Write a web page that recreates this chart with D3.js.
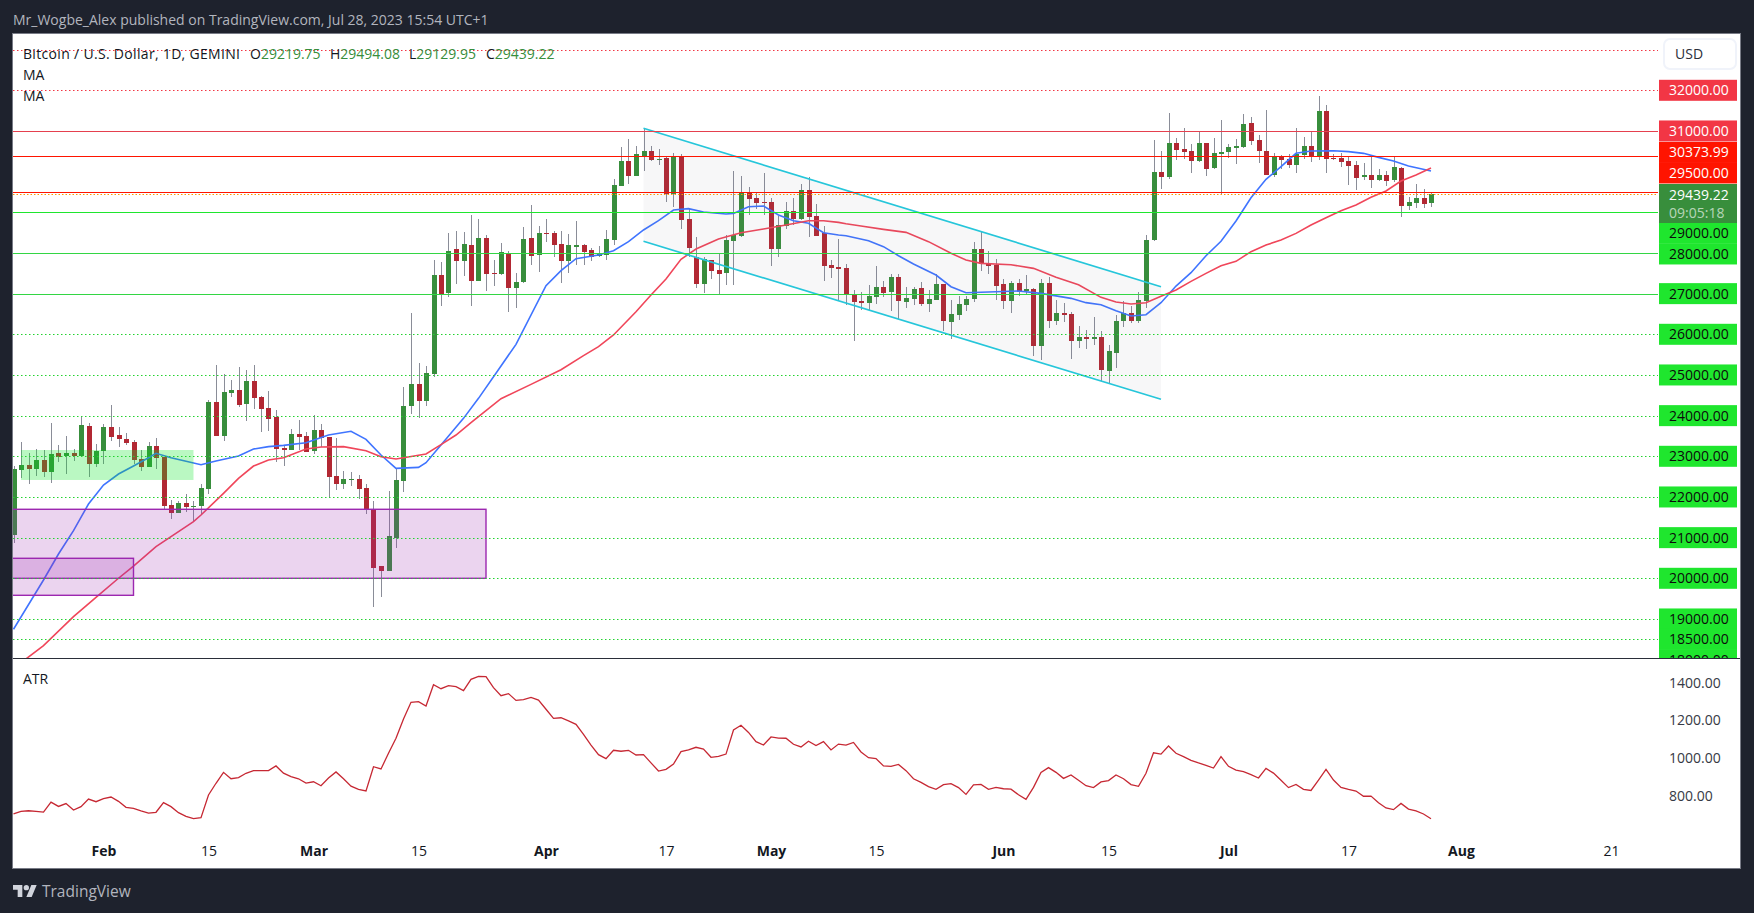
<!DOCTYPE html>
<html>
<head>
<meta charset="utf-8">
<title>BTCUSD</title>
<script src="https://cdn.jsdelivr.net/npm/d3@7"></script>
<style>
  html, body { margin: 0; padding: 0; background: #1e222d; }
  svg { display: block; }
  text { font-family: "Open Sans", sans-serif; font-size: 14px; }
</style>
</head>
<body>
<div id="chart"></div>
<script>
// daily candles, first one is 20 Jan 2023
var opens = [21073,22663,22786,22687,22909,22614,23081,23007,23081,23007,
  23745,22810,23130,23720,23523,23425,23351,22933,22737,23253,
  22982,21802,21605,21851,21753,21777,22196,24335,23499,24556,
  24630,24286,24851,24458,24187,23966,23204,23155,23548,23499,
  23130,23646,23474,22515,22319,22417,22442,22220,21696,20302,
  20179,20991,22392,24237,24778,24360,25023,27458,27007,28097,
  27802,28196,27310,28368,27507,27483,27974,27138,27286,28368,
  27949,28491,28491,28220,27802,28146,28196,28072,27925,27950,
  28319,29646,30261,29892,30385,30508,30286,30344,29450,30368,
  28835,27901,27237,27827,27581,27508,28295,28417,29491,29352,
  29254,29254,28098,28663,29032,28835,29549,28909,28491,27704,
  27655,27631,26990,26818,26769,26917,27163,27040,27408,26794,
  26868,27138,26745,26843,27237,26302,26474,26720,26868,28097,
  27753,27704,27237,26818,27261,27064,27114,25712,27261,26327,
  26523,26499,25835,25933,25884,25933,25097,25540,26327,26523,
  26327,26818,28318,29991,29868,30704,30556,30507,30261,30704,
  30089,30433,30482,30580,30605,31196,30778,30507,29917,30360,
  30310,30163,30409,30630,30384,31491,30335,30335,30261,30163,
  29868,29917,29794,29917,29794,30089,29154,29228,29351,29219.75];
var closes = [22687,22786,22687,22909,22614,23056,22982,23081,23007,23769,
  22810,23130,23720,23474,23425,23327,22909,22737,23253,22958,
  21777,21605,21851,21753,21769,22220,24335,23499,24581,24630,
  24261,24851,24433,24163,23917,23179,23155,23548,23474,23105,
  23646,23450,22491,22319,22442,22442,22196,21696,20253,20179,
  21040,22417,24237,24778,24360,25048,27458,26966,28048,27802,
  28220,27310,28368,27483,27483,28023,27138,27286,28343,27925,
  28491,28466,28196,27802,28196,28196,28023,27901,27974,28343,
  29671,30261,29892,30434,30508,30286,30311,29450,30368,28811,
  28122,27237,27852,27557,27483,28319,28442,29491,29327,29229,
  29229,28098,28688,29032,28835,29549,28885,28417,27680,27631,
  27606,26966,26794,26769,26941,27163,27015,27408,26818,26892,
  27114,26745,26868,27237,26327,26499,26745,26868,28097,27728,
  27679,27187,26818,27261,27064,27114,25712,27261,26327,26523,
  26474,25835,25933,25884,25933,25122,25589,26327,26523,26327,
  26843,28318,29991,29868,30704,30531,30482,30261,30704,30064,
  30458,30482,30605,30630,31171,30753,30507,29917,30360,30286,
  30163,30433,30630,30360,31491,30310,30310,30237,30138,29843,
  29917,29794,29917,29769,30114,29154,29253,29351,29204,29439.22];
var highs = [22760,23351,23081,23179,23155,23819,23278,23499,23179,23966,
  23819,23302,23794,24261,23720,23573,23400,23155,23351,23450,
  22982,21925,21900,22073,21900,22319,24384,25245,25023,24876,
  25196,25122,25245,24483,24606,24138,23278,23671,23892,23597,
  24015,23794,23474,23450,22638,22614,22540,22319,21900,20302,
  22146,22687,24712,26524,25294,25220,27827,27778,28491,28540,
  28515,28934,28835,28442,27827,28245,28048,27507,28638,29180,
  28663,28835,28540,28540,28466,28786,28220,28122,28171,28564,
  29819,30606,30802,30630,31065,30631,30557,30370,30458,30434,
  29098,28393,27901,27827,27975,28442,30016,29893,29622,29475,
  29967,29352,28909,29254,29352,29696,29868,29204,28663,27827,
  28344,27728,27089,27040,27212,27679,27310,27482,27482,27163,
  27163,27286,27089,27482,27237,26843,26941,26941,28269,28515,
  28048,27851,27359,27310,27359,27458,27138,27359,27408,26843,
  26769,26548,26204,26105,26425,26081,25736,26474,26818,26695,
  27040,28441,30777,30507,31442,30827,31073,30679,30999,30704,
  30827,31269,30679,30802,31417,31343,30901,31515,30458,30409,
  30433,31073,30851,30974,31860,31638,30433,30458,30359,30261,
  30212,30384,30064,30015,30359,30114,29376,29695,29572,29494.08];
var lows = [20860,22466,22319,22515,22482,22343,22860,22564,22884,22982,
  22491,22737,22810,23376,23228,23278,22810,22638,22737,22687,
  21704,21458,21605,21630,21409,21556,22073,23499,23384,24466,
  24212,23868,24163,23598,23622,22868,22761,23155,23155,23105,
  23056,23237,21991,22171,22196,22269,21950,21581,19294,19540,
  20179,20745,22122,24040,23941,24237,24950,26696,26917,27237,
  27433,26696,27310,27064,27187,27458,26548,26646,27261,27704,
  27532,28269,27901,27261,27507,27704,27704,27802,27901,27827,
  28196,29646,29696,29892,30024,30262,30163,29253,29130,28590,
  27901,27139,27016,27360,26967,27212,27212,28393,28934,29081,
  28934,27680,27901,28590,28688,28811,28393,28417,27311,27385,
  26827,26720,25835,26597,26597,26745,26917,26573,26376,26646,
  26720,26695,26548,26843,26081,25884,26351,26572,26794,27556,
  27482,26843,26622,26523,26941,26966,25466,25367,26154,26228,
  26302,25392,25663,25638,25736,24851,24777,25171,26179,26277,
  26277,26646,28294,29573,29819,30286,30310,29966,30236,29892,
  30064,29449,30335,30187,30581,30655,30212,29917,29868,30064,
  30089,29966,30310,30236,30286,29966,30286,30114,29671,29548,
  29794,29597,29769,29646,29745,28884,29056,29105,29105,29129.95];

// fast MA, read at these candle numbers
var maFastDays = [0,4,6,8,10,12,14,16,18,19,21,25,27,30,32,34,36,39,42,45,47,49,51,54,55,57,60,62,
  65,67,71,73,75,78,80,82,84,86,88,90,92,95,96,98,100,102,104,106,108,110,111,
  114,116,118,120,123,125,127,130,134,137,141,143,145,147,149,151,153,155,157,159,
  161,163,165,167,169,171,173,176,178,180,182,184,186,189];
var maFastValues = [18745,19958,20597,21171,21827,22294,22564,22761,22966,23073,22966,22794,22884,23007,23179,23237,23269,23335,23523,23614,23417,23032,22704,22728,22843,23278,23933,24425,
  25220,25753,27196,27565,27860,27950,28056,28278,28565,28794,29056,29089,29007,28958,28974,29138,29155,28933,28794,28729,28499,28442,28425,
  28302,28155,27933,27728,27458,27171,27023,27040,27064,27007,26884,26778,26728,26581,26450,26482,26777,27187,27515,27933,
  28286,28786,29359,29810,30122,30450,30507,30515,30491,30450,30351,30261,30138,30015];

// slow MA
var maSlowDays = [1,4,8,11,14,16,19,24,25,28,30,32,34,36,39,41,44,47,49,51,55,57,59,61,63,
  65,69,73,76,78,80,83,85,87,89,91,94,97,100,103,106,108,110,111,
  113,116,119,122,125,127,129,133,136,139,142,145,147,149,151,153,155,157,159,
  161,163,165,167,169,171,173,175,177,179,181,183,185,187,189];
var maSlowValues = [17925,18343,19056,19532,20001,20302,20777,21392,21556,22089,22458,22761,22909,22966,23179,23228,23237,23138,22991,22933,23056,23286,23523,23827,24122,
  24417,24769,25130,25474,25696,25983,26556,26966,27360,27843,28097,28343,28499,28589,28688,28794,28794,28753,28720,
  28663,28581,28507,28278,27991,27827,27745,27712,27622,27400,27220,26909,26794,26745,26777,26933,27089,27302,27499,
  27687,27794,28032,28195,28318,28482,28687,28868,29040,29179,29368,29523,29769,29917,30089];

// ATR, one value per candle
var atrValues = [703,717,720,717,713,766,743,758,724,742,
  782,768,784,793,770,738,733,719,708,712,
  763,742,710,690,678,683,804,866,924,890,
  896,919,933,933,933,958,920,901,890,867,
  874,853,894,926,890,851,834,825,954,942,
  1025,1105,1207,1296,1299,1276,1389,1368,1384,1379,
  1358,1418,1434,1432,1374,1331,1342,1306,1310,1322,
  1308,1259,1211,1214,1197,1179,1126,1069,1018,997,
  1041,1036,1041,1016,1018,974,931,940,968,1034,
  1043,1057,1048,1004,1009,1021,1149,1174,1136,1087,
  1069,1112,1106,1105,1073,1059,1089,1066,1087,1043,
  1074,1069,1083,1032,1002,997,958,956,966,933,
  890,871,848,834,859,864,843,807,857,860,
  834,844,837,835,805,781,844,924,949,924,
  892,910,882,853,843,873,880,910,890,859,
  850,919,1028,1021,1064,1025,1007,988,974,961,
  947,1007,956,936,928,912,894,945,920,882,
  843,860,834,828,883,940,883,844,834,825,
  797,798,763,735,726,759,729,719,703,678];

// horizontal levels drawn on the chart
var redDottedLevels = [33000, 32000];
var redSoftLevels = [31000];
var redLevels = [30373.99, 29500];
var greenSolidLevels = [29000, 28000, 27000];
var greenDottedLevels = [26000, 25000, 24000, 23000, 22000, 21000, 20000, 19000, 18500];
var lastPrice = 29439.22;
var redSoftLabels = [32000, 31000];
var greenLabels = [29000, 28000, 27000, 26000, 25000, 24000, 23000, 22000, 21000, 20000, 19000, 18500, 18000];

// boxes: first candle, last candle, top price, bottom price
var greenBox = [1, 24, 23155, 22418];
var purpleBoxBig = [-5, 63, 21697, 20000];
var purpleBoxSmall = [-5, 16, 20492, 19582];
// channel: first candle, last candle, prices at both ends
var channelDays = [84, 153];
var channelUpper = [31066, 27170];
var channelLower = [28287, 24402];

var atrTicks = [1400, 1200, 1000, 800];
var timeTicks = ["2023-02-01","2023-02-15","2023-03-01","2023-03-15","2023-04-01","2023-04-17","2023-05-01",
  "2023-05-15","2023-06-01","2023-06-15","2023-07-01","2023-07-17","2023-08-01","2023-08-21"];
var timeLabels = ["Feb","15","Mar","15","Apr","17","May","15","Jun","15","Jul","17","Aug","21"];

var width = 1754, height = 913;
var paneLeft = 13, paneRight = 1658, paneTop = 34, paneBottom = 658, frameRight = 1740, frameBottom = 868;

var svg = d3.select("#chart").append("svg")
    .attr("width", width)
    .attr("height", height);

var startDate = new Date(Date.UTC(2023, 0, 20));
var timeScale = d3.scaleUtc()
    .domain([startDate, new Date(Date.UTC(2023, 6, 28))])
    .range([13.5, 1431]);
function x(i) { return timeScale(d3.utcDay.offset(startDate, i)); }

var y = d3.scaleLinear().domain([32000, 18500]).range([90.3, 639.3]);
var yAtr = d3.scaleLinear().domain([1400, 800]).range([682.7, 795.7]);

// header text
svg.append("text").attr("x", 13).attr("y", 25).attr("fill", "#b2b5be")
    .text("Mr_Wogbe_Alex published on TradingView.com, Jul 28, 2023 15:54 UTC+1");

// white chart frame
svg.append("rect")
    .attr("x", paneLeft - 0.5).attr("y", paneTop - 0.5)
    .attr("width", frameRight - paneLeft + 1).attr("height", frameBottom - paneTop + 1)
    .attr("fill", "#fff").attr("stroke", "#787b86");

var defs = svg.append("defs");
defs.append("clipPath").attr("id", "mainClip").append("rect")
    .attr("x", paneLeft).attr("y", paneTop)
    .attr("width", paneRight - paneLeft).attr("height", paneBottom - paneTop);
defs.append("clipPath").attr("id", "labelClip").append("rect")
    .attr("x", paneRight).attr("y", paneTop)
    .attr("width", frameRight - paneRight).attr("height", paneBottom - paneTop);

var main = svg.append("g").attr("clip-path", "url(#mainClip)");

// candles
var candles = main.selectAll("g.candle")
    .data(d3.range(opens.length))
    .enter().append("g")
    .attr("class", "candle")
    .attr("shape-rendering", "crispEdges");

candles.append("line")
    .attr("x1", d => Math.round(x(d)) + 0.5)
    .attr("x2", d => Math.round(x(d)) + 0.5)
    .attr("y1", d => y(highs[d]))
    .attr("y2", d => y(lows[d]))
    .attr("stroke", "#8a8d98")
    .attr("stroke-width", 1);

candles.append("rect")
    .attr("x", d => Math.round(x(d)) - 2)
    .attr("width", 5)
    .attr("y", d => y(Math.max(opens[d], closes[d])))
    .attr("height", d => Math.max(1, Math.abs(y(opens[d]) - y(closes[d]))))
    .attr("fill", d => closes[d] >= opens[d] ? "#388e3c" : "#b22833");

// moving averages
var maLine = d3.line().x(d => x(d[0])).y(d => y(d[1]));

main.append("path")
    .attr("d", maLine(d3.zip(maFastDays, maFastValues)))
    .attr("fill", "none").attr("stroke", "#3f74ff").attr("stroke-width", 1.6);
main.append("path")
    .attr("d", maLine(d3.zip(maSlowDays, maSlowValues)))
    .attr("fill", "none").attr("stroke", "#f0465a").attr("stroke-width", 1.6);

// boxes over the candles
function addBox(b, fill, stroke) {
    main.append("rect")
        .attr("x", x(b[0])).attr("width", x(b[1]) - x(b[0]))
        .attr("y", y(b[2])).attr("height", y(b[3]) - y(b[2]))
        .attr("fill", fill)
        .attr("stroke", stroke)
        .attr("stroke-width", stroke == "none" ? 0 : 1.4);
}
addBox(purpleBoxBig, "rgba(156,39,176,0.2)", "#9c27b0");
addBox(purpleBoxSmall, "rgba(156,39,176,0.2)", "#9c27b0");
addBox(greenBox, "rgba(0,230,30,0.27)", "none");

// falling channel
var cx0 = x(channelDays[0]), cx1 = x(channelDays[1]);
main.append("path")
    .attr("d", d3.line()([[cx0, y(channelUpper[0])], [cx1, y(channelUpper[1])], [cx1, y(channelLower[1])], [cx0, y(channelLower[0])]]) + "Z")
    .attr("fill", "rgba(120,123,134,0.06)");
[channelUpper, channelLower].forEach(function(c) {
    main.append("line")
        .attr("x1", cx0).attr("x2", cx1)
        .attr("y1", y(c[0])).attr("y2", y(c[1]))
        .attr("stroke", "#26c6da").attr("stroke-width", 1.7);
});

// level lines
function addLevels(levels, color, dash) {
    main.selectAll(null)
        .data(levels)
        .enter().append("line")
        .attr("x1", paneLeft).attr("x2", paneRight)
        .attr("y1", d => Math.round(y(d)) + 0.5)
        .attr("y2", d => Math.round(y(d)) + 0.5)
        .attr("stroke", color)
        .attr("stroke-width", 1)
        .attr("stroke-dasharray", dash);
}
addLevels(redDottedLevels, "#f23645", "1.5 2.5");
addLevels(redSoftLevels, "#e5404e", null);
addLevels(redLevels, "#ff1400", null);
addLevels([lastPrice], "#ff9800", "1.5 2");
addLevels(greenSolidLevels.slice(0, 1), "#1fe62e", null);
addLevels(greenSolidLevels.slice(1), "#33d644", null);
addLevels(greenDottedLevels, "#22d32f", "1.5 2.5");

// price labels on the right
var labels = svg.append("g").attr("clip-path", "url(#labelClip)");
function addLabel(centerY, text, fill, color) {
    labels.append("rect")
        .attr("x", paneRight + 1).attr("y", centerY - 10.5)
        .attr("width", 78).attr("height", 21)
        .attr("fill", fill);
    labels.append("text")
        .attr("x", 1669).attr("y", centerY + 5)
        .attr("fill", color)
        .text(text);
}
// labels pushed apart where they would collide
var labelShift = { "30373.99": -4, "29500": -19, "29000": 21, "28000": 1 };
redSoftLabels.forEach(d => addLabel(y(d), d3.format(".2f")(d), "#f23645", "#fff"));
redLevels.forEach(d => addLabel(y(d) + labelShift[d], d3.format(".2f")(d), "#ff1400", "#fff"));
greenLabels.forEach(d => addLabel(y(d) + (labelShift[d] || 0), d3.format(".2f")(d), "#1fe62e", "#0b0b0b"));

labels.append("rect")
    .attr("x", paneRight + 1).attr("y", 184)
    .attr("width", 78).attr("height", 39)
    .attr("fill", "#388e3c");
labels.append("text").attr("x", 1669).attr("y", y(lastPrice) + 5.5).attr("fill", "#fff")
    .text(d3.format(".2f")(lastPrice));
labels.append("text").attr("x", 1669).attr("y", 218).attr("fill", "rgba(255,255,255,0.65)")
    .text("09:05:18");

// currency button
svg.append("rect")
    .attr("x", 1664).attr("y", 39).attr("width", 72).attr("height", 30).attr("rx", 6)
    .attr("fill", "#fff").attr("stroke", "#f0f3fa").attr("stroke-width", 2);
svg.append("text").attr("x", 1675).attr("y", 59).attr("fill", "#2a2e39").text("USD");

// legend
var legend = svg.append("g");
legend.append("text").attr("x", 23).attr("y", 59).attr("fill", "#131722")
    .attr("textLength", 217).attr("lengthAdjust", "spacing")
    .text("Bitcoin / U.S. Dollar, 1D, GEMINI");
var ohlcNames = ["O", "H", "L", "C"];
var ohlcX = [250, 330, 409, 486];
var last = opens.length - 1;
[opens[last], highs[last], lows[last], closes[last]].forEach(function(v, i) {
    var t = legend.append("text").attr("x", ohlcX[i]).attr("y", 59).attr("fill", "#131722");
    t.append("tspan").text(ohlcNames[i]);
    t.append("tspan").attr("fill", "#388e3c").text(d3.format(".2f")(v));
});
legend.append("text").attr("x", 23).attr("y", 80).attr("fill", "#131722").text("MA");
legend.append("text").attr("x", 23).attr("y", 101).attr("fill", "#131722").text("MA");

// pane divider
svg.append("line")
    .attr("x1", paneLeft).attr("x2", frameRight)
    .attr("y1", paneBottom + 0.5).attr("y2", paneBottom + 0.5)
    .attr("stroke", "#2a2e39").attr("stroke-width", 1);

// ATR pane
svg.append("text").attr("x", 23).attr("y", 684).attr("fill", "#131722").text("ATR");
svg.append("path")
    .attr("d", d3.line().x((d, i) => x(i)).y(d => yAtr(d))(atrValues))
    .attr("fill", "none").attr("stroke", "#c62833").attr("stroke-width", 1.3);

var atrAxis = svg.append("g")
    .attr("transform", "translate(1669,0)")
    .call(d3.axisRight(yAtr).tickValues(atrTicks).tickFormat(d3.format(".2f")).tickSize(0).tickPadding(0));
atrAxis.select(".domain").remove();
atrAxis.selectAll("text").attr("fill", "#363a45").style("font-size", "14px").attr("font-family", null);

// time axis
var timeDates = timeTicks.map(d => new Date(d + "T00:00:00Z"));
var timeAxis = svg.append("g")
    .attr("transform", "translate(0,846)")
    .call(d3.axisBottom(timeScale)
        .tickValues(timeDates)
        .tickFormat((d, i) => timeLabels[i])
        .tickSize(0).tickPadding(0));
timeAxis.select(".domain").remove();
timeAxis.selectAll("text")
    .attr("fill", "#131722")
    .style("font-size", "14px")
    .style("font-weight", (d, i) => isNaN(+timeLabels[i]) ? "700" : "400");

// TradingView mark
svg.append("g")
    .attr("transform", "translate(13,882.3) scale(0.667)")
    .attr("fill", "#d1d4dc")
    .call(function(g) {
        g.append("path").attr("d", "M14 22H7V11H0V4h14v18zM28 22h-8l7.5-18h8L28 22z");
        g.append("circle").attr("cx", 20).attr("cy", 8).attr("r", 4);
    });
svg.append("text")
    .attr("x", 42).attr("y", 897)
    .attr("fill", "#b2b5be")
    .style("font-size", "15.5px")
    .text("TradingView");
</script>
</body>
</html>
